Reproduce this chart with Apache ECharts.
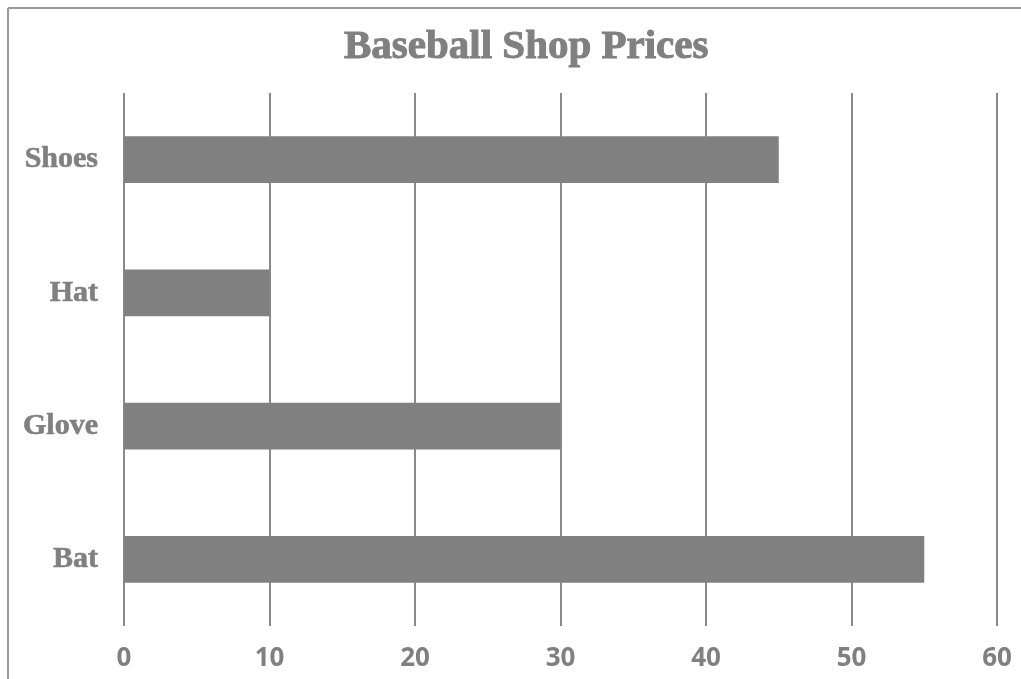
<!DOCTYPE html>
<html>
<head>
<meta charset="utf-8">
<script src="https://cdn.jsdelivr.net/npm/echarts@6/dist/echarts.min.js"></script>
<style>
  html, body { margin: 0; padding: 0; background: #ffffff; }
  #chart { width: 1021px; height: 679px; }
</style>
</head>
<body>
<div id="chart"></div>
<script>
// Item names and their prices (top to bottom)
const items = ['Shoes', 'Hat', 'Glove', 'Bat'];
const prices = [45, 10, 30, 55];
const priceTicks = [0, 10, 20, 30, 40, 50, 60];

const grey = '#808080';
const chart = echarts.init(document.getElementById('chart'));

chart.setOption({
  backgroundColor: '#ffffff',
  animation: false,
  title: {
    text: 'Baseball Shop Prices',
    left: 339,
    top: 22,
    textStyle: {
      fontFamily: 'Liberation Serif',
      fontWeight: 'bold',
      fontSize: 41,
      color: grey,
      textBorderColor: grey,
      textBorderWidth: 1
    }
  },
  graphic: [
    { type: 'line', shape: { x1: 8, y1: 8, x2: 1021, y2: 8 }, style: { stroke: '#9a9a9a', lineWidth: 2 } },
    { type: 'line', shape: { x1: 8, y1: 8, x2: 8, y2: 679 }, style: { stroke: '#9a9a9a', lineWidth: 2 } }
  ],
  grid: { left: 124, right: 24, top: 93, bottom: 53 },
  xAxis: {
    type: 'value',
    min: priceTicks[0],
    max: priceTicks[priceTicks.length - 1],
    interval: priceTicks[1] - priceTicks[0],
    axisLine: { show: false },
    axisTick: { show: false },
    splitLine: { show: true, lineStyle: { color: '#8a8a8a', width: 2 } },
    axisLabel: {
      margin: 20,
      color: grey,
      fontFamily: 'Open Sans',
      fontWeight: 'bold',
      fontSize: 26
    }
  },
  yAxis: {
    type: 'category',
    data: items,
    inverse: true,
    axisLine: { show: false },
    axisTick: { show: false },
    splitLine: { show: false },
    axisLabel: {
      margin: 26,
      color: grey,
      fontFamily: 'Liberation Serif',
      fontWeight: 'bold',
      fontSize: 30,
      textBorderColor: grey,
      textBorderWidth: 0.6
    }
  },
  series: [{
    type: 'bar',
    data: prices,
    barCategoryGap: '65%',
    itemStyle: { color: grey },
    silent: true
  }]
});
</script>
</body>
</html>
